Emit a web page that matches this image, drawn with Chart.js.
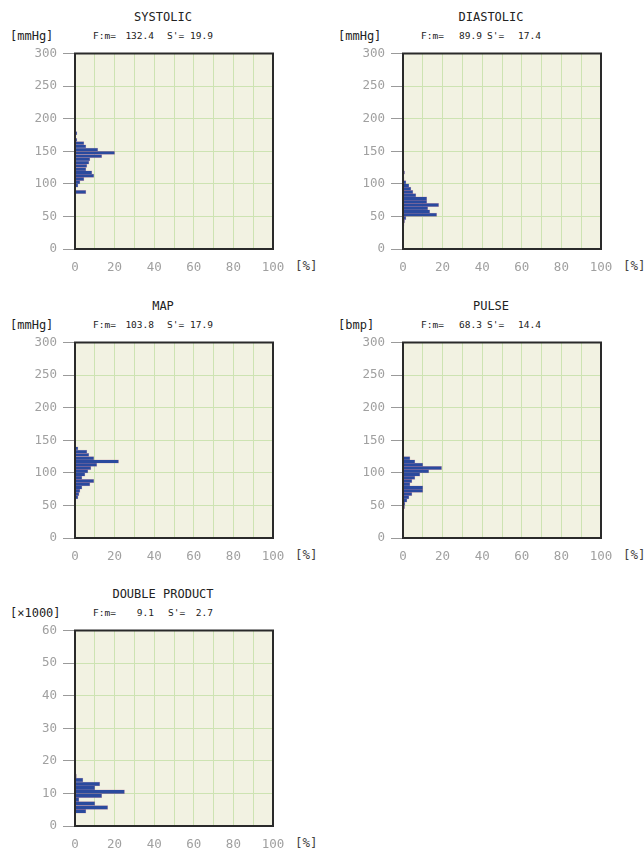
<!DOCTYPE html>
<html>
<head>
<meta charset="utf-8">
<script src="https://cdn.jsdelivr.net/npm/chart.js@4.4.0/dist/chart.umd.min.js"></script>
<style>
body { margin: 0; background: #fff; width: 644px; height: 857px; position: relative; overflow: hidden; font-family: "DejaVu Sans Mono", monospace; }
.panel { position: absolute; width: 322px; height: 285px; }
.panel canvas { position: absolute; left: 0; top: 40px; }
.t { position: absolute; white-space: pre; color: #222; line-height: 1; transform: translateY(-50%); }
.title { font-size: 12px; transform: translate(-50%, -50%); left: 163px; top: 17px; }
.unit { font-size: 12px; left: 10px; top: 36px; }
.st { font-size: 9.5px; top: 36px; }
.r { text-align: right; }
.pct { font-size: 12.5px; left: 295px; top: 266px; color: #444; }
</style>
</head>
<body>
<script>
// 数据 (每个区间的中心值 / 百分比)
const systolicBins = [87.5, 97.5, 102.5, 107.5, 112.5, 117.5, 122.5, 127.5, 132.5, 137.5, 142.5, 147.5, 152.5, 157.5, 162.5, 167.5, 177.5];
const systolicPct  = [5.5, 1.5, 2.5, 4.5, 9.5, 8.5, 5.5, 6, 7, 7.5, 13.5, 20, 11.5, 5.5, 4.5, 1, 1];

const diastolicBins = [37.5, 42.5, 47.5, 52.5, 57.5, 62.5, 67.5, 72.5, 77.5, 82.5, 87.5, 92.5, 97.5, 102.5, 107.5, 117.5];
const diastolicPct  = [0.5, 0.8, 1.5, 17, 13.5, 12.5, 18, 12, 12, 6.5, 5, 4, 3, 1.5, 0.5, 0.8];

const mapBins = [62.5, 67.5, 72.5, 77.5, 82.5, 87.5, 92.5, 97.5, 102.5, 107.5, 112.5, 117.5, 122.5, 127.5, 132.5, 137.5];
const mapPct  = [1.5, 2, 2.5, 3.5, 7.5, 9.5, 3.5, 5, 6.5, 8, 11, 22, 9.5, 7, 6, 1.5];

const pulseBins = [47.5, 52.5, 57.5, 62.5, 67.5, 72.5, 77.5, 82.5, 87.5, 92.5, 97.5, 102.5, 107.5, 112.5, 117.5, 122.5];
const pulsePct  = [0.8, 1, 2, 3, 4.5, 10, 10, 3.5, 4.5, 6, 8.5, 13, 19.5, 10, 6, 3.5];

const dpBins = [4.5, 5.7, 6.9, 8.1, 9.3, 10.5, 11.7, 12.9, 14.1, 15.3];
const dpPct  = [5.5, 16.5, 10, 2, 13.5, 25, 10, 12.5, 4, 0.7];

const yTicksMmHg = [0, 300, 50];
const yTicksDp = [0, 60, 10];
const xTicks = [0, 100, 10];

// 面板信息
const panels = [
  { x: 0,   y: 0,   title: 'SYSTOLIC',       unit: '[mmHg]',  mean: '132.4', sd: '19.9', sx: 167, bins: systolicBins,  pct: systolicPct,  yt: yTicksMmHg },
  { x: 328, y: 0,   title: 'DIASTOLIC',      unit: '[mmHg]',  mean: '89.9',  sd: '17.4', sx: 159, bins: diastolicBins, pct: diastolicPct, yt: yTicksMmHg },
  { x: 0,   y: 289, title: 'MAP',            unit: '[mmHg]',  mean: '103.8', sd: '17.9', sx: 167, bins: mapBins,       pct: mapPct,       yt: yTicksMmHg },
  { x: 328, y: 289, title: 'PULSE',          unit: '[bmp]',   mean: '68.3',  sd: '14.4', sx: 159, bins: pulseBins,     pct: pulsePct,     yt: yTicksMmHg },
  { x: 0,   y: 577, title: 'DOUBLE PRODUCT', unit: '[\u00d71000]', mean: '9.1', sd: '2.7', sx: 168, bins: dpBins,     pct: dpPct,        yt: yTicksDp }
];

Chart.defaults.font.family = '"DejaVu Sans Mono", monospace';
Chart.defaults.font.size = 12.5;
Chart.defaults.color = '#a0a0a0';

// 背景和边框
const framePlugin = {
  id: 'frame',
  beforeDraw(chart) {
    const { ctx, chartArea: a } = chart;
    ctx.save();
    ctx.fillStyle = '#f2f2e2';
    ctx.fillRect(a.left, a.top, a.width, a.height);
    ctx.restore();
  },
  afterDraw(chart) {
    const { ctx, chartArea: a } = chart;
    ctx.save();
    ctx.strokeStyle = '#2a2a2a';
    ctx.lineWidth = 2;
    ctx.strokeRect(a.left, a.top, a.width, a.height);
    ctx.restore();
  }
};

function addText(parent, cls, text, style) {
  const d = document.createElement('div');
  d.className = 't ' + cls;
  d.textContent = text;
  Object.assign(d.style, style || {});
  parent.appendChild(d);
}

panels.forEach(p => {
  const div = document.createElement('div');
  div.className = 'panel';
  div.style.left = p.x + 'px';
  div.style.top = p.y + 'px';
  document.body.appendChild(div);

  addText(div, 'title', p.title);
  addText(div, 'unit', p.unit);
  addText(div, 'st', 'F:m=', { left: '93px' });
  addText(div, 'st r', p.mean, { right: (322 - 154) + 'px' });
  addText(div, 'st', "S'=", { left: p.sx + 'px' });
  addText(div, 'st r', p.sd, { right: (322 - 213) + 'px' });
  addText(div, 'pct', '[%]');

  const canvas = document.createElement('canvas');
  canvas.width = 300;
  canvas.height = 240;
  div.appendChild(canvas);

  new Chart(canvas.getContext('2d'), {
    type: 'bar',
    data: {
      datasets: [{
        data: p.bins.map((b, i) => ({ x: p.pct[i], y: b })),
        backgroundColor: '#2a4a9e',
        borderColor: 'rgba(160, 70, 120, 0.45)',
        borderWidth: 0.5,
        borderSkipped: 'start',
        barPercentage: 1,
        categoryPercentage: 1
      }]
    },
    options: {
      indexAxis: 'y',
      responsive: false,
      animation: false,
      events: [],
      layout: { padding: { left: 0, top: 12, right: 27, bottom: 0 } },
      plugins: { legend: { display: false }, tooltip: { enabled: false } },
      scales: {
        y: {
          type: 'linear',
          min: p.yt[0], max: p.yt[1],
          offset: false,
          grid: { offset: false, color: '#cde3b2', tickColor: '#9a9a9a', tickLength: 12 },
          border: { display: false },
          ticks: { stepSize: p.yt[2], padding: 6, autoSkip: false },
          afterFit: s => { s.width = 75; }
        },
        x: {
          type: 'linear',
          min: xTicks[0], max: xTicks[1],
          grid: { color: '#cde3b2', drawTicks: false },
          border: { display: false },
          ticks: { stepSize: xTicks[2], padding: 11, autoSkip: false, maxRotation: 0,
                   callback: v => (v % 20 === 0 ? v : '') },
          afterFit: s => { s.height = 31; }
        }
      }
    },
    plugins: [framePlugin]
  });
});
</script>
</body>
</html>
